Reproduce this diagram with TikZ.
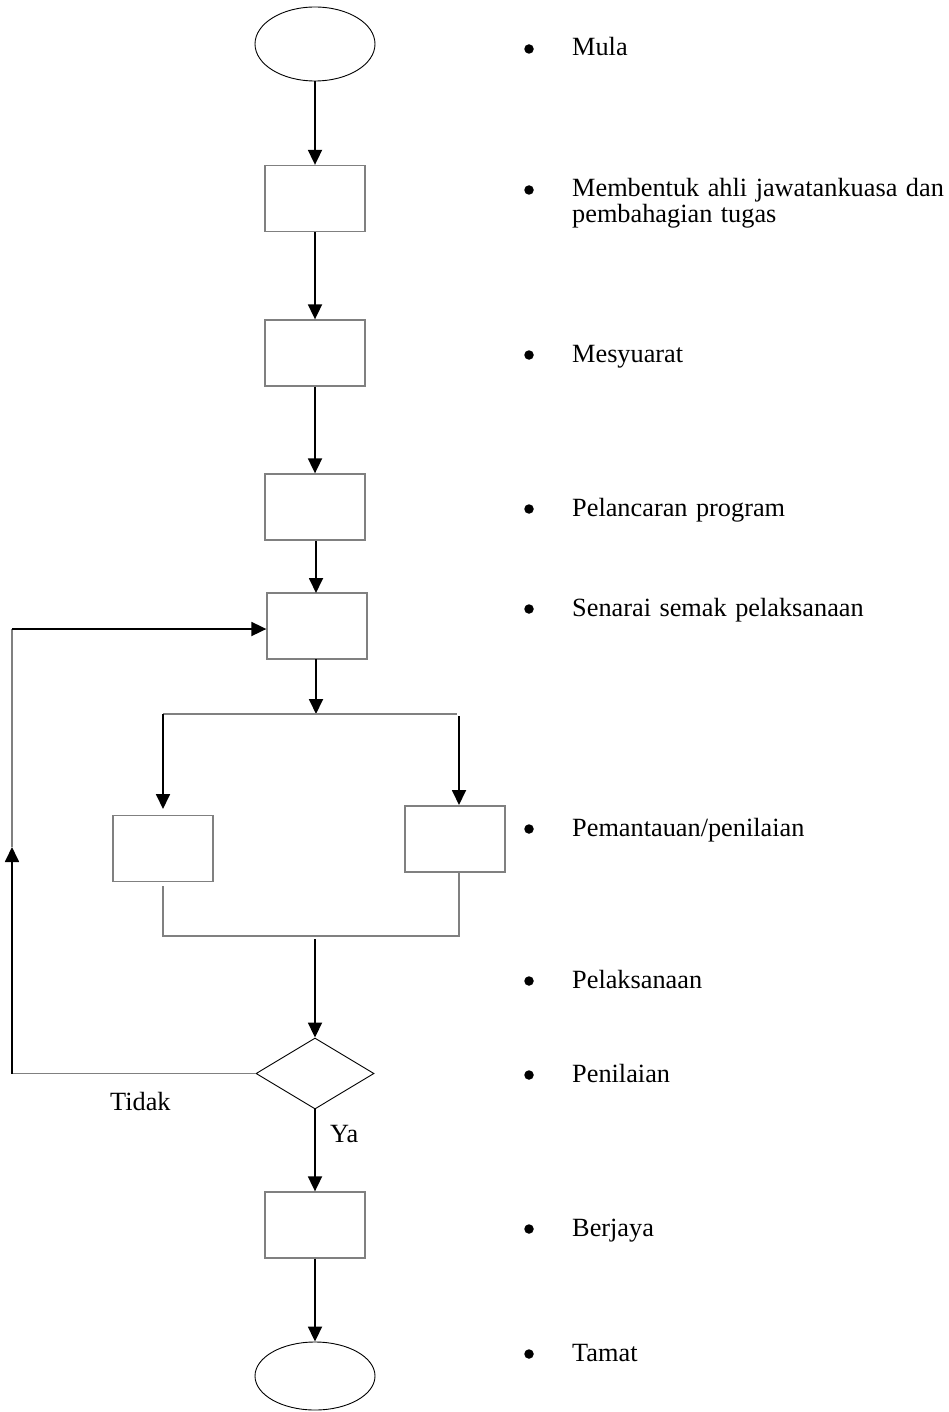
\documentclass[tikz,border=0pt]{standalone}
\usepackage{fontspec}
\setmainfont{Liberation Serif}
\usetikzlibrary{shapes.geometric,arrows.meta,calc}
\definecolor{edgegray}{HTML}{808080}
% wider interword spacing for the step descriptions
\newcommand{\itemspacing}{\spaceskip=8.5pt plus 1pt\relax}
\begin{document}
\begin{tikzpicture}[x=1pt,y=-1pt,
  terminal/.style={draw=black,line width=0.9pt,ellipse,minimum width=120pt,minimum height=74pt,inner sep=0pt},
  stepbox/.style={draw=edgegray,line width=1.3pt,rectangle,minimum width=100pt,minimum height=66pt,inner sep=0pt},
  decision/.style={draw=black,line width=0.9pt,diamond,minimum width=118pt,minimum height=71pt,inner sep=0pt,aspect=1.66},
  flow/.style={black,line width=1.8pt,-{Triangle[length=15pt,width=14pt]}},
  link/.style={edgegray,line width=1.3pt},
  dot/.style={circle,fill=black,inner sep=0pt,minimum size=9.5pt},
  item/.style={anchor=base west,inner sep=0pt,font=\fontsize{26.3pt}{30pt}\selectfont},
  tag/.style={anchor=base west,inner sep=0pt,font=\fontsize{26.3pt}{30pt}\selectfont}]
\useasboundingbox (0,0) rectangle (949,1412);

% main column of the flowchart
\node[terminal] (start) at (315,44) {};
\node[stepbox] (s1) at (315,198.5) {};
\node[stepbox] (s2) at (315,353) {};
\node[stepbox] (s3) at (315,507) {};
\node[stepbox] (s4) at (317,626) {};
\node[stepbox] (sl) at (163,848.5) {};
\node[stepbox] (sr) at (455,839) {};
\node[decision] (check) at (315,1073.5) {};
\node[stepbox] (s5) at (315,1225) {};
\node[terminal,minimum height=68pt] (stop) at (315,1376) {};

% branch and merge points
\coordinate (split) at (316,714);
\coordinate (splitL) at (163,714);
\coordinate (mergeL) at (163,936);
\coordinate (mergeR) at (459,936);
\coordinate (mergeC) at (315,939);
\coordinate (loopLow) at (12,1073.5);
\coordinate (loopMid) at (12,847);
\coordinate (loopTop) at (12,629);

\draw[flow] (start.south) -- (s1.north);
\draw[flow] (s1.south) -- (s2.north);
\draw[flow] (s2.south) -- (s3.north);
\draw[flow] (316,541) -- (316,593);
\draw[flow] (316,659) -- (split);
\draw[link] (splitL) -- (457,714);
\draw[flow] (splitL) -- (163,809);
\draw[flow] (459,716) -- (459,805);
\draw[link] (163,886) -- (mergeL) -- (mergeR) -- (459,873);
\draw[flow] (mergeC) -- (check.north);
\draw[link] (check.west) -- (loopLow);
\draw[flow] (loopLow) -- (loopMid);
\draw[link] (loopMid) -- (loopTop);
\draw[flow] (loopTop) -- (loopTop -| s4.west);
\draw[flow] (check.south) -- (s5.north);
\draw[flow] (s5.south) -- (stop.north);

\node[tag] (no) at (110,1110) {Tidak};
\node[tag] (yes) at (330,1142) {Ya};

% step descriptions
\foreach \n/\y/\t in {
  m1/56/{Mula},
  m2/197/{Membentuk ahli jawatankuasa dan},
  m3/362/{Mesyuarat},
  m4/516/{Pelancaran program},
  m5/616/{Senarai semak pelaksanaan},
  m6/836/{Pemantauan/penilaian},
  m7/988/{Pelaksanaan},
  m8/1082/{Penilaian},
  m9/1236/{Berjaya},
  m10/1361/{Tamat}}{
  \node[dot] (d\n) at (529,\y-7) {};
  \node[item] (\n) at (572,\y) {\itemspacing\t};
}
\node[item] (m2b) at (572,223) {\itemspacing pembahagian tugas};
\end{tikzpicture}
\end{document}
